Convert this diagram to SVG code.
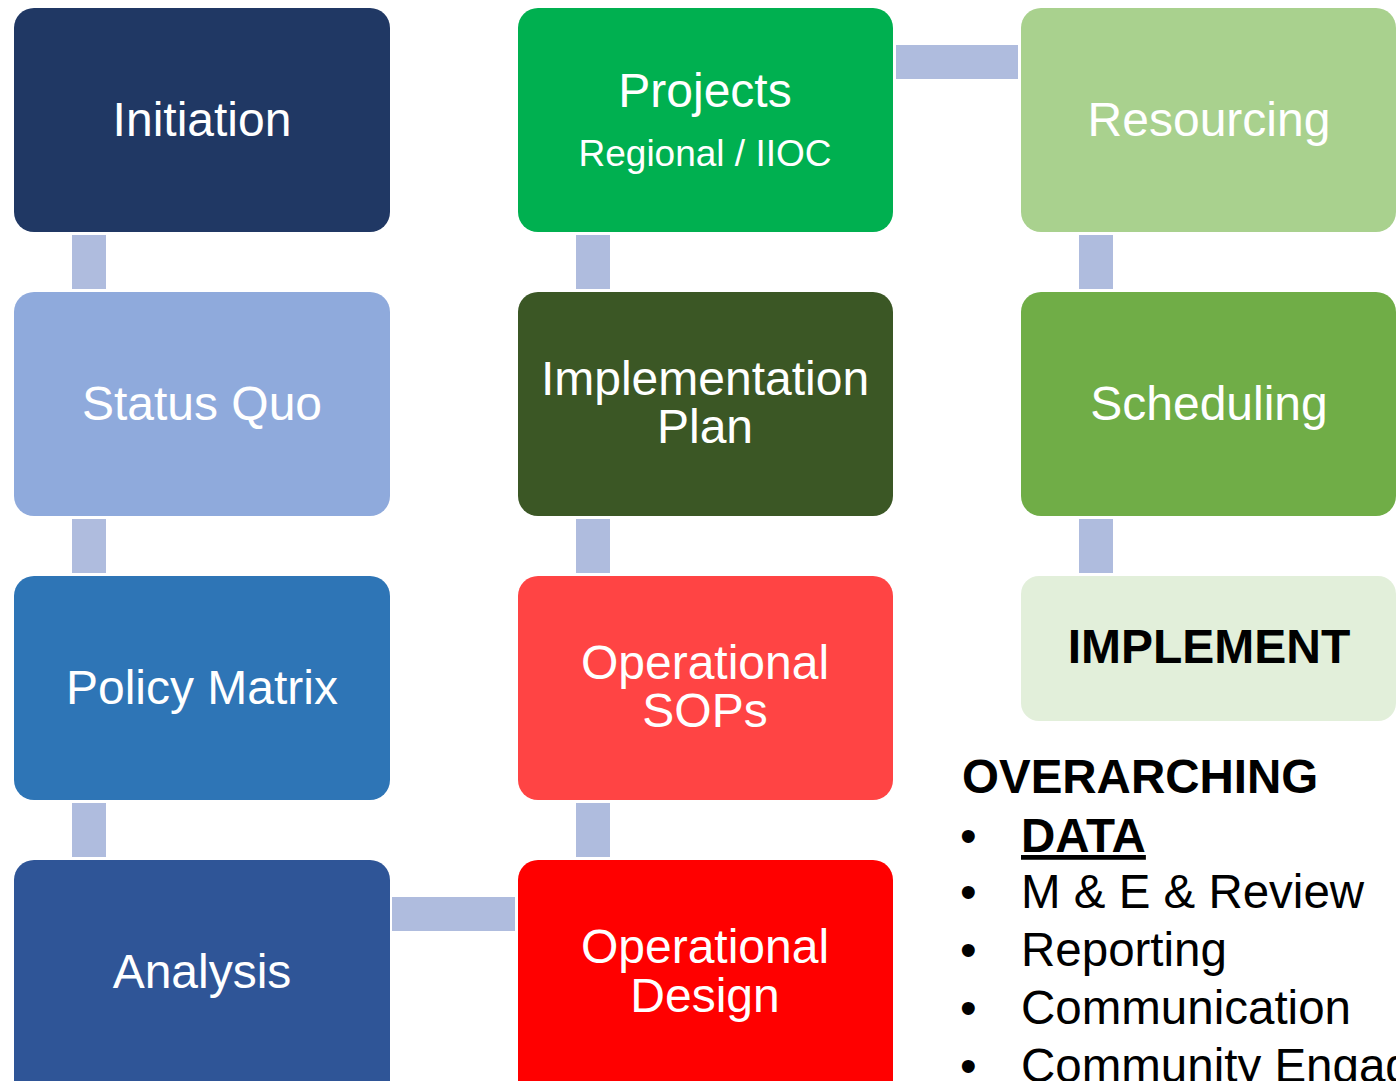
<svg xmlns="http://www.w3.org/2000/svg" width="1396" height="1081" viewBox="0 0 1396 1081">
<style>
.box{stroke:none}
.lbl{font-family:"Liberation Sans",Arial,sans-serif;font-size:48px;fill:#ffffff;text-anchor:middle}
.sub{font-size:37px}
.blk{font-family:"Liberation Sans",Arial,sans-serif;fill:#000000}
.conn{fill:#AFBCDE}
</style>
<rect width="1396" height="1081" fill="#ffffff"/>
<g id="connectors">
<rect class="conn" x="72" y="235" width="34" height="54"/>
<rect class="conn" x="72" y="519" width="34" height="54"/>
<rect class="conn" x="72" y="803" width="34" height="54"/>
<rect class="conn" x="392" y="897" width="123" height="34"/>
<rect class="conn" x="576" y="235" width="34" height="54"/>
<rect class="conn" x="576" y="519" width="34" height="54"/>
<rect class="conn" x="576" y="803" width="34" height="54"/>
<rect class="conn" x="896" y="45" width="122" height="34"/>
<rect class="conn" x="1079" y="235" width="34" height="54"/>
<rect class="conn" x="1079" y="519" width="34" height="54"/>
</g>
<g id="initiation"><rect class="box" x="14" y="8" width="376" height="224" rx="20" fill="#203864"/><text class="lbl" x="202" y="136">Initiation</text></g>
<g id="status-quo"><rect class="box" x="14" y="292" width="376" height="224" rx="20" fill="#8FAADC"/><text class="lbl" x="202" y="420">Status Quo</text></g>
<g id="policy-matrix"><rect class="box" x="14" y="576" width="376" height="224" rx="20" fill="#2E75B6"/><text class="lbl" x="202" y="704">Policy Matrix</text></g>
<g id="analysis"><rect class="box" x="14" y="860" width="376" height="240" rx="20" fill="#2F5597"/><text class="lbl" x="202" y="988">Analysis</text></g>
<g id="projects"><rect class="box" x="518" y="8" width="375" height="224" rx="20" fill="#00B050"/><text class="lbl" x="705" y="107">Projects</text><text class="lbl sub" x="705" y="166">Regional / IIOC</text></g>
<g id="implementation-plan"><rect class="box" x="518" y="292" width="375" height="224" rx="20" fill="#3B5725"/><text class="lbl" x="705" y="395">Implementation</text><text class="lbl" x="705" y="443">Plan</text></g>
<g id="operational-sops"><rect class="box" x="518" y="576" width="375" height="224" rx="20" fill="#FF4444"/><text class="lbl" x="705" y="679">Operational</text><text class="lbl" x="705" y="727">SOPs</text></g>
<g id="operational-design"><rect class="box" x="518" y="860" width="375" height="240" rx="20" fill="#FF0000"/><text class="lbl" x="705" y="963">Operational</text><text class="lbl" x="705" y="1012">Design</text></g>
<g id="resourcing"><rect class="box" x="1021" y="8" width="375" height="224" rx="20" fill="#A9D18E"/><text class="lbl" x="1209" y="136">Resourcing</text></g>
<g id="scheduling"><rect class="box" x="1021" y="292" width="375" height="224" rx="20" fill="#70AD47"/><text class="lbl" x="1209" y="420">Scheduling</text></g>
<g id="implement"><rect class="box" x="1021" y="576" width="375" height="145" rx="18" fill="#E2EFDA"/><text class="blk" x="1209" y="663" font-size="48" font-weight="bold" text-anchor="middle">IMPLEMENT</text></g>
<g id="overarching" class="blk" font-size="47.5">
<text x="962" y="793" font-weight="bold">OVERARCHING</text>
<text x="960" y="852">•</text><text x="1021" y="852" font-weight="bold" text-decoration="underline">DATA</text>
<text x="960" y="908">•</text><text x="1021" y="908">M &amp; E &amp; Review</text>
<text x="960" y="966">•</text><text x="1021" y="966">Reporting</text>
<text x="960" y="1024">•</text><text x="1021" y="1024">Communication</text>
<text x="960" y="1082">•</text><text x="1021" y="1082">Community Engagement</text>
</g>
</svg>
